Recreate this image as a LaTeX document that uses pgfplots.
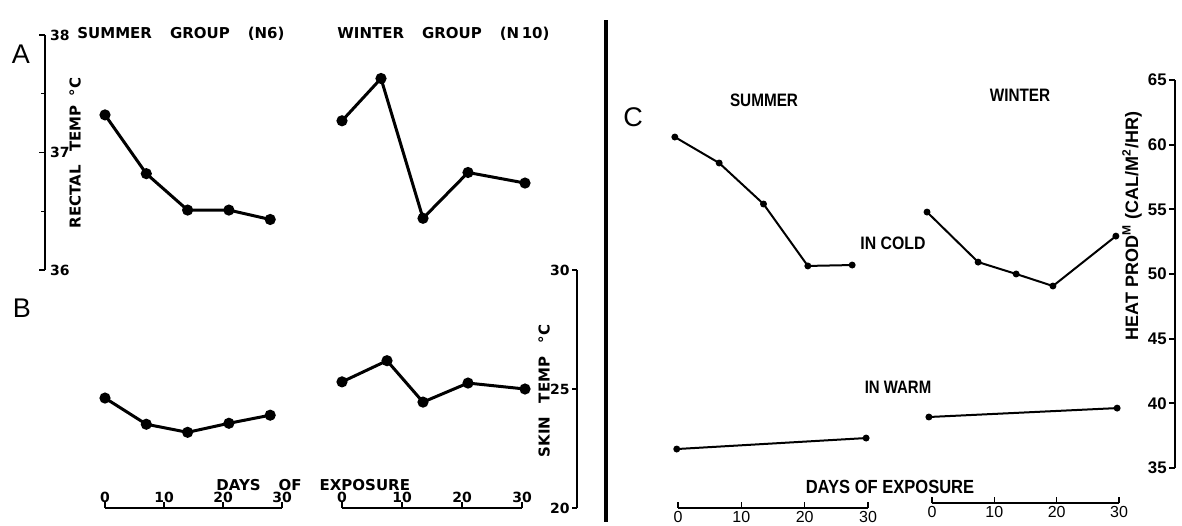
\documentclass[border=0pt]{standalone}
\usepackage{pgfplots}
\pgfplotsset{compat=1.18}
\usepackage{fontspec}
\setmainfont{DejaVu Sans}
\newfontfamily\lett{DejaVu Sans}
\newfontfamily\hv{Liberation Sans}
\newfontfamily\arial{Liberation Sans}

% lettering of the left figure (A, B) and of the right figure (C)
\newcommand{\lab}{\lett\bfseries\fontsize{7.5}{9}\selectfont}
\newcommand{\tlab}{\lett\bfseries\fontsize{7}{8}\selectfont}
\newcommand{\clab}{\hv\bfseries\fontsize{9}{10}\selectfont}
\newcommand{\ctick}{\hv\fontsize{8}{9}\selectfont}
\newcommand{\cytick}{\hv\bfseries\fontsize{8.4}{9}\selectfont}

\pgfplotsset{
  noarrows/.style={
    x axis line style={-}, y axis line style={-},
    every outer x axis line/.append style={-},
    every outer y axis line/.append style={-},
    every inner x axis line/.append style={-},
    every inner y axis line/.append style={-}},
  panel/.style={scale only axis, clip=false,
    /pgf/number format/assume math mode=true,
    axis line style={line width=0.7pt, black},
    tick style={line width=0.7pt, black}},
  plain/.style={panel, hide axis},
  abline/.style={black, line width=1.5pt, mark=*, mark size=2pt},
  cline/.style={black, line width=1pt, mark=*, mark size=1.2pt},
  daysAB/.style={panel, axis x line=bottom, axis y line=none, noarrows,
    xmin=0, xmax=30, xtick={0,10,20,30}, tick align=inside,
    major tick length=3pt,
    x tick label style={font=\tlab, anchor=south, inner sep=1pt, yshift=1.5pt}},
  daysC/.style={panel, axis x line=bottom, axis y line=none, noarrows,
    xmin=0, xmax=30, xtick={0,10,20,30}, tick align=inside,
    major tick length=3pt, axis line style={line width=1pt},
    x tick label style={font=\ctick, anchor=north, inner sep=1pt, yshift=-0.5pt}},
}

\begin{document}
\begin{tikzpicture}
\path[use as bounding box] (0,0) rectangle (591pt,-262.5pt);

% ---------------- A: rectal temperature ----------------
\begin{axis}[panel, at={(22.5pt,-135pt)}, anchor=south east,
  width=1pt, height=117.5pt, xmin=0, xmax=1, ymin=36, ymax=38,
  axis y line=right, axis x line=none, noarrows,
  ytick={36,37,38}, minor ytick={36.5,37.5}, tick align=inside,
  major tick length=3pt, minor tick length=2pt,
  y tick label style={font=\tlab, anchor=west, xshift=-1pt}]
\end{axis}

\begin{axis}[plain, at={(52.5pt,-135pt)}, anchor=south west,
  width=88.5pt, height=117.5pt, xmin=0, xmax=30, ymin=36, ymax=38]
\addplot[abline] coordinates {(0,37.32) (7,36.82) (14,36.51) (21,36.51) (28,36.43)};
\end{axis}

\begin{axis}[plain, at={(171pt,-135pt)}, anchor=south west,
  width=90pt, height=117.5pt, xmin=0, xmax=30, ymin=36, ymax=38]
\addplot[abline] coordinates {(0,37.27) (6.5,37.63) (13.5,36.44) (21,36.83) (30.5,36.74)};
\end{axis}

% ---------------- B: skin temperature ----------------
\begin{axis}[daysAB, at={(52.5pt,-254pt)}, anchor=south west,
  width=88.5pt, height=119pt, ymin=20, ymax=30]
\addplot[abline] coordinates {(0,24.62) (7,23.52) (14,23.18) (21,23.56) (28,23.90)};
\end{axis}

\begin{axis}[daysAB, at={(171pt,-254pt)}, anchor=south west,
  width=90pt, height=119pt, ymin=20, ymax=30]
\addplot[abline] coordinates {(0,25.30) (7.5,26.19) (13.5,24.45) (21,25.25) (30.5,25.00)};
\end{axis}

\begin{axis}[panel, at={(288.5pt,-254pt)}, anchor=south west,
  width=1pt, height=119pt, xmin=0, xmax=1, ymin=20, ymax=30,
  axis y line=left, axis x line=none, noarrows, ytick={20,25,30},
  tick align=outside, major tick length=2.5pt,
  y tick label style={font=\tlab, anchor=east, inner sep=1pt, xshift=0pt}]
\end{axis}

% ---------------- C: heat production ----------------
\begin{axis}[daysC, at={(339pt,-254pt)}, anchor=south west,
  width=95pt, height=214pt, ymin=31.9, ymax=65]
\addplot[cline] coordinates {(-0.5,60.59) (6.5,58.58) (13.5,55.41) (20.5,50.62) (27.5,50.69)};
\addplot[cline] coordinates {(-0.2,36.46) (29.7,37.31)};
\end{axis}

\begin{axis}[daysC, at={(466pt,-251.5pt)}, anchor=south west,
  width=93.5pt, height=211.5pt, ymin=32.29, ymax=65]
\addplot[cline] coordinates {(-0.8,54.79) (7.4,50.92) (13.5,50.00) (19.4,49.07) (29.5,52.93)};
\addplot[cline] coordinates {(-0.5,38.94) (29.7,39.63)};
\end{axis}

\begin{axis}[panel, at={(587.5pt,-234pt)}, anchor=south west,
  width=1pt, height=194pt, xmin=0, xmax=1, ymin=35, ymax=65,
  axis y line=left, axis x line=none, noarrows, ytick={35,40,...,65},
  axis line style={line width=1pt}, tick style={line width=1pt},
  tick align=outside, major tick length=3pt,
  y tick label style={font=\cytick, anchor=east, inner sep=1pt, xshift=0pt}]
\end{axis}

% ---------------- lettering ----------------
\node[font=\arial\fontsize{13.5}{14}\selectfont] at (10.5pt,-27pt) {A};
\node[font=\arial\fontsize{13.5}{14}\selectfont] at (11pt,-154pt) {B};
\node[font=\arial\fontsize{13.5}{14}\selectfont] at (316.5pt,-58.5pt) {C};

\node[font=\lab, anchor=west, inner sep=0pt] at (38.5pt,-17pt)
  {SUMMER\hspace{1.2em}GROUP\hspace{1.2em}(N6)};
\node[font=\lab, anchor=west, inner sep=0pt] at (168.5pt,-17pt)
  {WINTER\hspace{1.2em}GROUP\hspace{1.2em}(N\,10)};
\node[font=\lab, rotate=90, inner sep=0pt] at (37.5pt,-76.5pt)
  {RECTAL\hspace{0.9em}TEMP\hspace{0.6em}°C};
\node[font=\lab, rotate=90, inner sep=0pt] at (272pt,-195.5pt)
  {SKIN\hspace{0.9em}TEMP\hspace{0.9em}°C};
\node[font=\lab, anchor=west, inner sep=0pt] at (108pt,-242.5pt)
  {DAYS\hspace{1.2em}OF\hspace{1.2em}EXPOSURE};

\node[font=\clab, xscale=0.85] at (382pt,-50pt) {SUMMER};
\node[font=\clab, xscale=0.85] at (510pt,-47.5pt) {WINTER};
\node[font=\clab, xscale=0.88] at (446.5pt,-121.5pt) {IN COLD};
\node[font=\clab, xscale=0.83] at (449pt,-193.5pt) {IN WARM};
\node[font=\hv\bfseries\fontsize{9.5}{10}\selectfont, xscale=0.87] at (445pt,-243.5pt) {DAYS OF EXPOSURE};
\node[font=\clab, rotate=90, inner sep=0pt] at (566pt,-113pt)
  {HEAT PROD\textsuperscript{M} (CAL/M\textsuperscript{2}/HR)};

% divider between the two figures
\draw[line width=2pt] (303pt,-10pt) -- (303pt,-261pt);
\end{tikzpicture}
\end{document}
